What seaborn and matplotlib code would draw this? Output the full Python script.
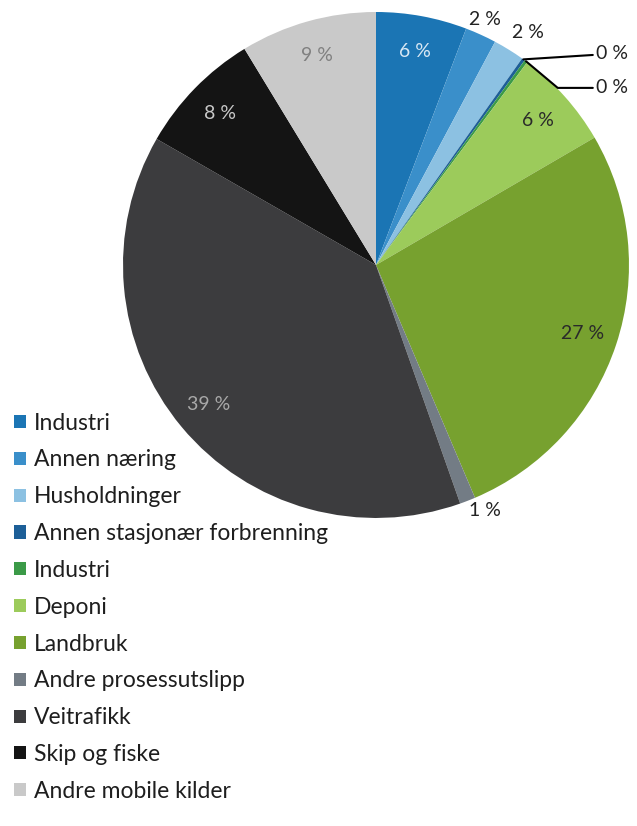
import matplotlib
matplotlib.use("Agg")
import matplotlib.pyplot as plt
from matplotlib.patches import Patch
import numpy as np
import seaborn as sns

# Emission shares by source (percent)
categories = [
    "Industri", "Annen næring", "Husholdninger", "Annen stasjonær forbrenning",
    "Industri", "Deponi", "Landbruk", "Andre prosessutslipp",
    "Veitrafikk", "Skip og fiske", "Andre mobile kilder",
]
shares = [5.8, 2.0, 2.0, 0.2, 0.2, 6.4, 27.0, 1.0, 38.7, 8.0, 8.7]

colors = ["#1b75b4", "#3a8fca", "#8cc1e2", "#1d5f98", "#3b9a47",
          "#9ccb5b", "#77a12f", "#737c85", "#3c3c3e", "#141414", "#c9c9c9"]
label_colors = ["#d8e8f4", "#222222", "#222222", "#222222", "#222222",
                "#2a2a2a", "#2a2a2a", "#222222", "#a8a8a8", "#c8c8c8", "#808080"]

sns.set_theme(style="white")
plt.rcParams["font.family"] = ["Lato", "DejaVu Sans"]

fig = plt.figure(figsize=(6.37, 8.26), dpi=100)
ax = fig.add_axes([0.1931, 0.3729, 0.7943, 0.6126])

wedges, _ = ax.pie(shares, colors=colors, startangle=90, counterclock=False,
                   radius=1.0, wedgeprops=dict(linewidth=0))
ax.set_xlim(-1, 1)
ax.set_ylim(-1, 1)
ax.set_aspect("equal")
ax.axis("off")


def mid_angle(w):
    return np.deg2rad((w.theta1 + w.theta2) / 2)


fs = 14
# labels inside the larger slices
for i in [0, 5, 6, 8, 9, 10]:
    a = mid_angle(wedges[i])
    r = 0.86
    ax.text(r * np.cos(a), r * np.sin(a), f"{shares[i]:.0f} %", ha="center",
            va="center", fontsize=fs, color=label_colors[i])

# small slices labelled outside
outside = {1: (0.43, 0.97), 2: (0.60, 0.92), 7: (0.43, -0.97)}
for i, (x, y) in outside.items():
    ax.text(x, y, f"{shares[i]:.0f} %", ha="center", va="center",
            fontsize=fs, color="#222222")

# the two tiny slices get leader lines
a = mid_angle(wedges[3])
x0, y0 = np.cos(a), np.sin(a)
ax.annotate(f"{shares[3]:.0f} %", xy=(x0, y0), xytext=(0.87, 0.835),
            fontsize=fs, color="#222222", va="center", ha="left",
            arrowprops=dict(arrowstyle="-", color="black", lw=1.5,
                            shrinkA=0, shrinkB=0))
a = mid_angle(wedges[4])
x1, y1 = np.cos(a), np.sin(a)
ax.annotate(f"{shares[4]:.0f} %", xy=(x1, y1), xytext=(0.87, 0.70),
            fontsize=fs, color="#222222", va="center", ha="left",
            arrowprops=dict(arrowstyle="-", color="black", lw=1.5,
                            shrinkA=0, shrinkB=0,
                            connectionstyle="angle,angleA=0,angleB=-40,rad=0"))

handles = [Patch(facecolor=c, edgecolor="none") for c in colors]
fig.legend(handles, categories, loc="upper left",
           bbox_to_anchor=(0.008, 0.5115), frameon=False, fontsize=16.5,
           handlelength=0.5, handleheight=0.5, handletextpad=0.35,
           labelspacing=0.69, borderaxespad=0, labelcolor="#1e1e1e")

fig.savefig("out.png", dpi=100, facecolor="white")
